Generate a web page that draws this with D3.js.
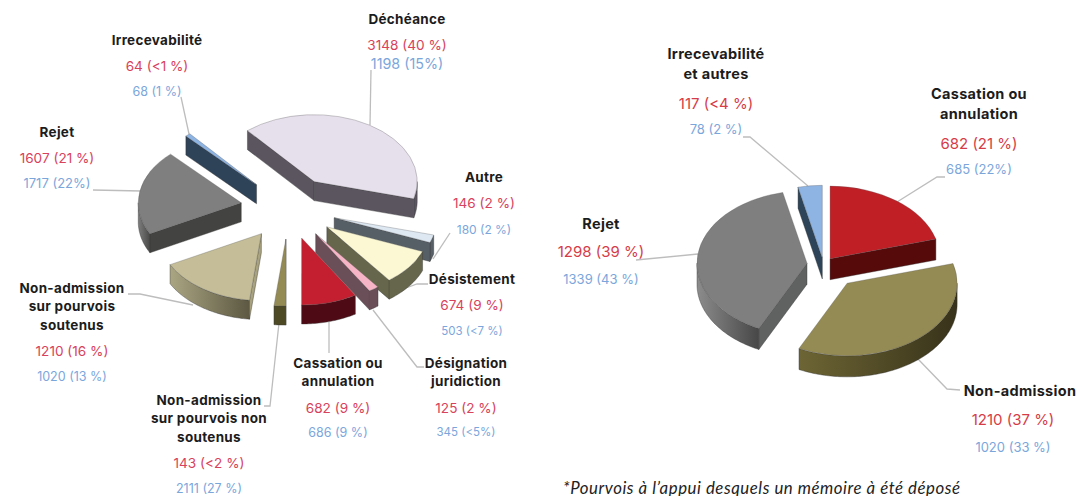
<!DOCTYPE html>
<html lang="fr">

<head>
    <meta charset="UTF-8">
    <title>Pourvois</title>
    <script src="https://d3js.org/d3.v7.min.js"></script>
    <style>
        body { margin: 0; background: #fff; }
        svg { display: block; }
        text { font-family: "Inter", sans-serif; text-anchor: middle; dominant-baseline: central; }
        .name { font-weight: 700; fill: #1c1c1c; letter-spacing: .3px; }
        .red { fill: #d8425c; }
        .right .red { fill: #d63c48; }
        .blue { fill: #7ba6dc; }
        .note { font-family: "Lato", sans-serif; font-style: italic; text-anchor: start; fill: #222; font-size: 16.8px; letter-spacing: .55px; }
    </style>
</head>

<body>
    <svg width="1082" height="496"></svg>
    <script>
        // left pie
        const leftNames = [['Déchéance'], ['Autre'], ['Désistement'], ['Désignation', 'juridiction'], ['Cassation ou', 'annulation'],
            ['Non-admission', 'sur pourvois non', 'soutenus'], ['Non-admission', 'sur pourvois', 'soutenus'], ['Rejet'], ['Irrecevabilité']];
        const leftValues = [3148, 146, 674, 125, 682, 143, 1210, 1607, 64];
        const leftRed = ['3148 (40 %)', '146 (2 %)', '674 (9 %)', '125 (2 %)', '682 (9 %)', '143 (<2 %)', '1210 (16 %)', '1607 (21 %)', '64 (<1 %)'];
        const leftBlue = ['1198 (15%)', '180 (2 %)', '503 (<7 %)', '345 (<5%)', '686 (9 %)', '2111 (27 %)', '1020 (13 %)', '1717 (22%)', '68 (1 %)'];

        // right pie
        const rightNames = [['Cassation ou', 'annulation'], ['Non-admission'], ['Rejet'], ['Irrecevabilité', 'et autres']];
        const rightValues = [682, 1210, 1298, 117];
        const rightRed = ['682 (21 %)', '1210 (37 %)', '1298 (39 %)', '117 (<4 %)'];
        const rightBlue = ['685 (22%)', '1020 (33 %)', '1339 (43 %)', '78 (2 %)'];

        const footnote = '*Pourvois à l’appui desquels un mémoire à été déposé';

        // styles, same order as the values
        const leftStyle = [
            { top: '#e6dfec', wall: '#5b5560', rim: ['#5b5560', '#5b5560'] },
            { top: '#dde8f3', wall: '#565e66', rim: ['#565e66', '#565e66'] },
            { top: '#fbf8d3', wall: '#66664c', rim: ['#66664c', '#66664c'] },
            { top: '#f6b4c6', wall: '#6b4f58', rim: ['#6b4f58', '#6b4f58'] },
            { top: '#c41f30', wall: '#4f0b15', rim: ['#4f0b15', '#4f0b15'] },
            { top: '#948a54', wall: '#4d4925', rim: ['#4d4925', '#4d4925'] },
            { top: '#c4bd97', wall: '#a8a27e', rim: ['#aaa582', '#5c5842'] },
            { top: '#7f7f7f', wall: '#434441', rim: ['#7d7d7d', '#494a48'] },
            { top: '#8eb4e3', wall: '#2f4358', rim: ['#2f4358', '#2f4358'] }
        ];
        const rightStyle = [
            { top: '#c01f26', wall: '#560a0a', rim: ['#560a0a', '#560a0a'] },
            { top: '#948a54', wall: '#3b361c', rim: ['#6d6534', '#37321a'] },
            { top: '#7f7f7f', wall: '#606161', rim: ['#8c8c8c', '#474747'] },
            { top: '#8eb4e3', wall: '#2e4559', rim: ['#2e4559', '#2e4559'] }
        ];

        const svg = d3.select('svg');
        const defs = svg.append('defs');
        const rad = d => d * Math.PI / 180;

        function drawPie(id, values, style, o) {
            const slices = d3.pie().sort(null)
                .startAngle(rad(o.start)).endAngle(rad(o.start + 360))(values);
            const arc = d3.arc().innerRadius(0).outerRadius(o.r);
            const pt = a => [o.r * Math.sin(a), -o.r * o.tilt * Math.cos(a)];
            const line = d3.line();

            slices.forEach((s, i) => {
                const mid = (s.startAngle + s.endAngle) / 2;
                const g = svg.append('g').attr('transform',
                    `translate(${o.cx + o.explode[i] * Math.sin(mid)},${o.cy - o.explode[i] * o.tilt * Math.cos(mid)})`);
                const c = style[i];
                const a0 = s.startAngle, a1 = s.endAngle;

                // rim: the part of the arc that faces the viewer
                const lo = Math.max(a0, rad(90)), hi = Math.min(a1, rad(270));
                if (hi > lo) {
                    const top = d3.range(lo, hi, 0.02).concat(hi).map(pt);
                    const low = top.map(p => [p[0], p[1] + o.depth]).reverse();
                    const gid = `${id}-rim-${i}`;
                    const grad = defs.append('linearGradient').attr('id', gid)
                        .attr('gradientUnits', 'userSpaceOnUse')
                        .attr('x1', d3.min(top, p => p[0])).attr('x2', d3.max(top, p => p[0]));
                    grad.append('stop').attr('offset', 0).attr('stop-color', c.rim[0]);
                    grad.append('stop').attr('offset', 1).attr('stop-color', c.rim[1]);
                    g.append('path').attr('d', line(top.concat(low)) + 'Z').attr('fill', `url(#${gid})`)
                        .attr('stroke', '#333').attr('stroke-width', .4);
                }

                // cut faces
                [[a0, Math.sin(a0) < 0], [a1, Math.sin(a1) > 0]].forEach(([a, visible]) => {
                    if (!visible) return;
                    const p = pt(a);
                    g.append('path')
                        .attr('d', line([[0, 0], p, [p[0], p[1] + o.depth], [0, o.depth]]) + 'Z')
                        .attr('fill', c.wall).attr('stroke', '#333').attr('stroke-width', .4);
                });

                // top face
                g.append('path').attr('d', arc(s))
                    .attr('transform', `scale(1,${o.tilt})`)
                    .attr('fill', c.top)
                    .attr('stroke', '#555').attr('stroke-opacity', .6)
                    .attr('stroke-width', .5).attr('vector-effect', 'non-scaling-stroke');
            });
        }

        function drawLeaders(list) {
            svg.append('g').selectAll('path').data(list).join('path')
                .attr('d', d3.line())
                .attr('fill', 'none').attr('stroke', '#bdbdbd').attr('stroke-width', 1.3);
        }

        function drawLabels(cls, names, red, blue, pos, sizes) {
            const group = svg.append('g').attr('class', cls);
            names.forEach((lines, i) => {
                const p = pos[i];
                const vx = p.vx || p.x; // numbers are not always under the name
                lines.forEach((t, j) => {
                    group.append('text').attr('class', 'name').attr('x', p.x).attr('y', p.y + j * sizes.lead)
                        .attr('font-size', sizes.name).text(t);
                });
                group.append('text').attr('class', 'red').attr('x', vx).attr('y', p.red)
                    .attr('font-size', sizes.red).text(red[i]);
                group.append('text').attr('class', 'blue').attr('x', vx).attr('y', p.blue)
                    .attr('font-size', p.blueSize || sizes.blue).text(blue[i]);
            });
        }

        drawLeaders([
            [[371, 70], [370, 125]],
            [[181, 97], [189, 134]],
            [[93, 190], [141, 191]],
            [[450, 233], [433, 259]],
            [[428, 284], [417, 284], [406, 288]],
            [[373, 310], [417, 367], [424, 367]],
            [[329, 322], [329, 353]],
            [[128, 294], [140, 294], [193, 305]],
            [[264, 406], [270, 406], [279, 323]],
            [[743, 137], [750, 137], [808, 186]],
            [[945, 177], [937, 177], [897, 202]],
            [[636, 260], [698, 254]],
            [[918, 359], [947, 389], [960, 390]]
        ]);

        drawPie('left', leftValues, leftStyle, {
            cx: 288.6, cy: 208, r: 103, tilt: 0.65, depth: 19, start: -40.4,
            explode: leftValues.map(() => 48)
        });
        drawPie('right', rightValues, rightStyle, {
            cx: 823.4, cy: 264.5, r: 110, tilt: 0.66, depth: 21, start: 0,
            explode: [11, 37, 16.5, 10]
        });

        drawLabels('left', leftNames, leftRed, leftBlue, [
            { x: 407, y: 19, red: 45, blue: 63, blueSize: 14.3 },
            { x: 484, y: 177, red: 203, blue: 229, blueSize: 12 },
            { x: 472, y: 279, red: 305, blue: 331, blueSize: 11.5 },
            { x: 466, y: 363, red: 408, blue: 432, blueSize: 11.5 },
            { x: 338, y: 363, red: 408, blue: 432 },
            { x: 209, y: 400, red: 463, blue: 488 },
            { x: 72, y: 288, red: 351, blue: 376 },
            { x: 57, y: 132, red: 158, blue: 183, blueSize: 13 },
            { x: 157, y: 40, red: 66, blue: 91 }
        ], { name: 13.5, lead: 18.3, red: 13.6, blue: 12.5 });

        drawLabels('right', rightNames, rightRed, rightBlue, [
            { x: 979, y: 93, red: 143, blue: 169 },
            { x: 1020, y: 390, vx: 1013, red: 419, blue: 447 },
            { x: 601, y: 223, red: 251, blue: 279 },
            { x: 716, y: 53, red: 103, blue: 129 }
        ], { name: 14.5, lead: 20.5, red: 15, blue: 13 });

        svg.append('text').attr('class', 'note').attr('x', 563).attr('y', 487).text(footnote);
    </script>
</body>

</html>
